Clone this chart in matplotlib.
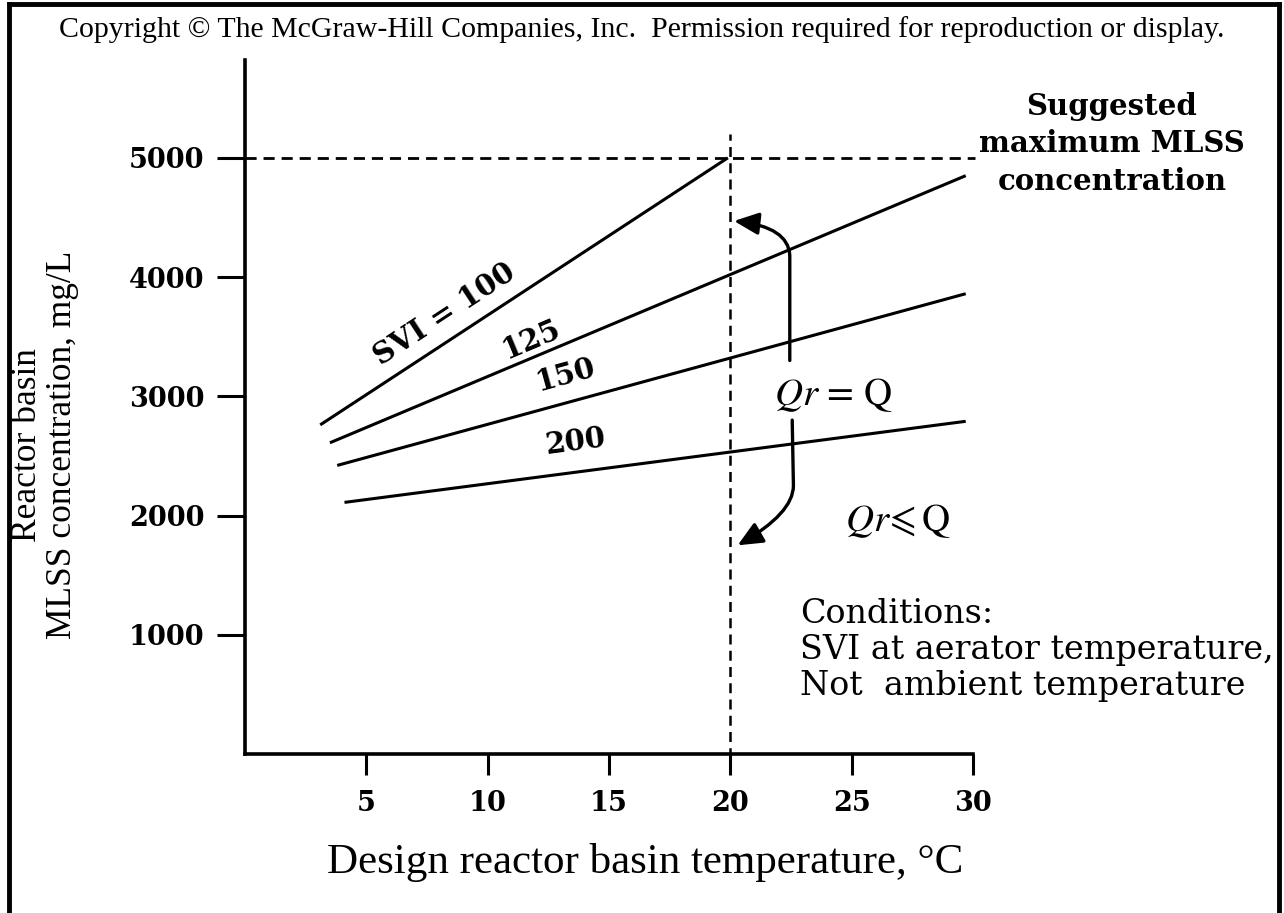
import matplotlib
matplotlib.use("Agg")
from matplotlib import pyplot as plt
from matplotlib.patches import FancyArrowPatch
from matplotlib.path import Path
from matplotlib.lines import Line2D
import math

plt.rcParams['mathtext.fontset'] = 'stix'

# SVI lines: start and end points
svi = [100, 125, 150, 200]
t_start = [3.1, 3.5, 3.8, 4.1]
t_end = [19.9, 29.7, 29.7, 29.7]
mlss_start = [2760, 2610, 2420, 2110]
mlss_end = [5000, 4850, 3860, 2790]
svi_labels = ['SVI = 100', '125', '150', '200']
label_pos = [(8.2, 3690), (11.8, 3480), (13.2, 3180), (13.6, 2620)]

x_ticks = [5, 10, 15, 20, 25, 30]
y_ticks = [1000, 2000, 3000, 4000, 5000]
max_mlss = 5000
design_temp = 20

fig = plt.figure(figsize=(12.84, 9.13), dpi=100)
ax = fig.add_axes([245 / 1284, 1 - 754 / 913, 728 / 1284, 694 / 913])
ax.set_xlim(0, 30)
ax.set_ylim(0, 5820)

for s in ['top', 'right']:
    ax.spines[s].set_visible(False)
for s in ['left', 'bottom']:
    ax.spines[s].set_linewidth(2.6)

ax.set_xticks(x_ticks)
ax.set_yticks(y_ticks)
ax.tick_params(axis='x', length=15, width=2.2, pad=11)
ax.tick_params(axis='y', length=20, width=2.2, pad=9)
for lab in ax.get_xticklabels() + ax.get_yticklabels():
    lab.set_fontfamily('DejaVu Serif')
    lab.set_fontweight('bold')
    lab.set_fontsize(19.5)

# SVI curves
for i in range(len(svi)):
    ax.plot([t_start[i], t_end[i]], [mlss_start[i], mlss_end[i]],
            color='black', lw=2.2, solid_capstyle='butt')

# label angles in screen space
fig.canvas.draw()
for i in range(len(svi)):
    p0 = ax.transData.transform((t_start[i], mlss_start[i]))
    p1 = ax.transData.transform((t_end[i], mlss_end[i]))
    ang = math.degrees(math.atan2(p1[1] - p0[1], p1[0] - p0[0]))
    ax.text(label_pos[i][0], label_pos[i][1], svi_labels[i], rotation=ang,
            rotation_mode='anchor', ha='center', va='center',
            fontfamily='DejaVu Serif', fontweight='semibold', fontsize=21)

# dashed guides
ax.plot([0, 30.1], [max_mlss, max_mlss], color='black', lw=2, ls=(0, (4, 2.5)),
        clip_on=False)
ax.plot([design_temp, design_temp], [-170, 5200], color='black', lw=1.8,
        ls=(0, (4, 2.5)), clip_on=False)

# arrows
up_path = Path([(22.45, 3300), (22.45, 4180), (22.4, 4420), (20.15, 4470)],
               [Path.MOVETO, Path.LINETO, Path.CURVE3, Path.CURVE3])
down_path = Path([(22.55, 2800), (22.6, 2250), (22.6, 2020), (20.3, 1750)],
                 [Path.MOVETO, Path.LINETO, Path.CURVE3, Path.CURVE3])
for p in [up_path, down_path]:
    ax.add_patch(FancyArrowPatch(path=p, arrowstyle='-|>,head_length=10,head_width=4.5',
                                 color='black', lw=2.4, mutation_scale=1.5))

ax.text(24.25, 3010, r'$Qr$ = Q', ha='center', va='center', fontsize=28,
        fontfamily='STIXGeneral')
ax.text(26.9, 1950, r'$Qr\!\leqslant\mathrm{Q}$', ha='center', va='center', fontsize=28)

fig.text(1112 / 1284, 1 - 144 / 913, 'Suggested\nmaximum MLSS\nconcentration',
         ha='center', va='center', ma='center', fontfamily='DejaVu Serif',
         fontsize=21, fontweight='semibold', linespacing=1.38)
fig.text(800 / 1284, 1 - 650 / 913,
         'Conditions:\nSVI at aerator temperature,\nNot  ambient temperature',
         ha='left', va='center', fontfamily='DejaVu Serif', fontsize=24,
         linespacing=1.17)

fig.text(645 / 1284, 1 - 862 / 913, 'Design reactor basin temperature, \u00b0C',
         ha='center', va='center', fontfamily='Liberation Serif', fontsize=31)
fig.text(45 / 1284, 1 - 445 / 913, 'Reactor basin\nMLSS concentration, mg/L',
         rotation=90, ha='center', va='center', fontfamily='Liberation Serif',
         fontsize=25.5, linespacing=1.05)

fig.text(642 / 1284, 1 - 30 / 913,
         'Copyright \u00a9 The McGraw-Hill Companies, Inc.  Permission required for reproduction or display.',
         ha='center', va='center', fontfamily='Liberation Serif', fontsize=21.5)

# frame around the figure (no bottom edge)
frame_kw = dict(color='black', lw=3.5, transform=fig.transFigure)
x0, x1, y1 = 9 / 1284, 1279 / 1284, 1 - 4 / 913
fig.add_artist(Line2D([x0, x0], [0, y1], **frame_kw))
fig.add_artist(Line2D([x1, x1], [0, y1], **frame_kw))
fig.add_artist(Line2D([x0, x1], [y1, y1], **frame_kw))

fig.savefig('out.png', dpi=100)
